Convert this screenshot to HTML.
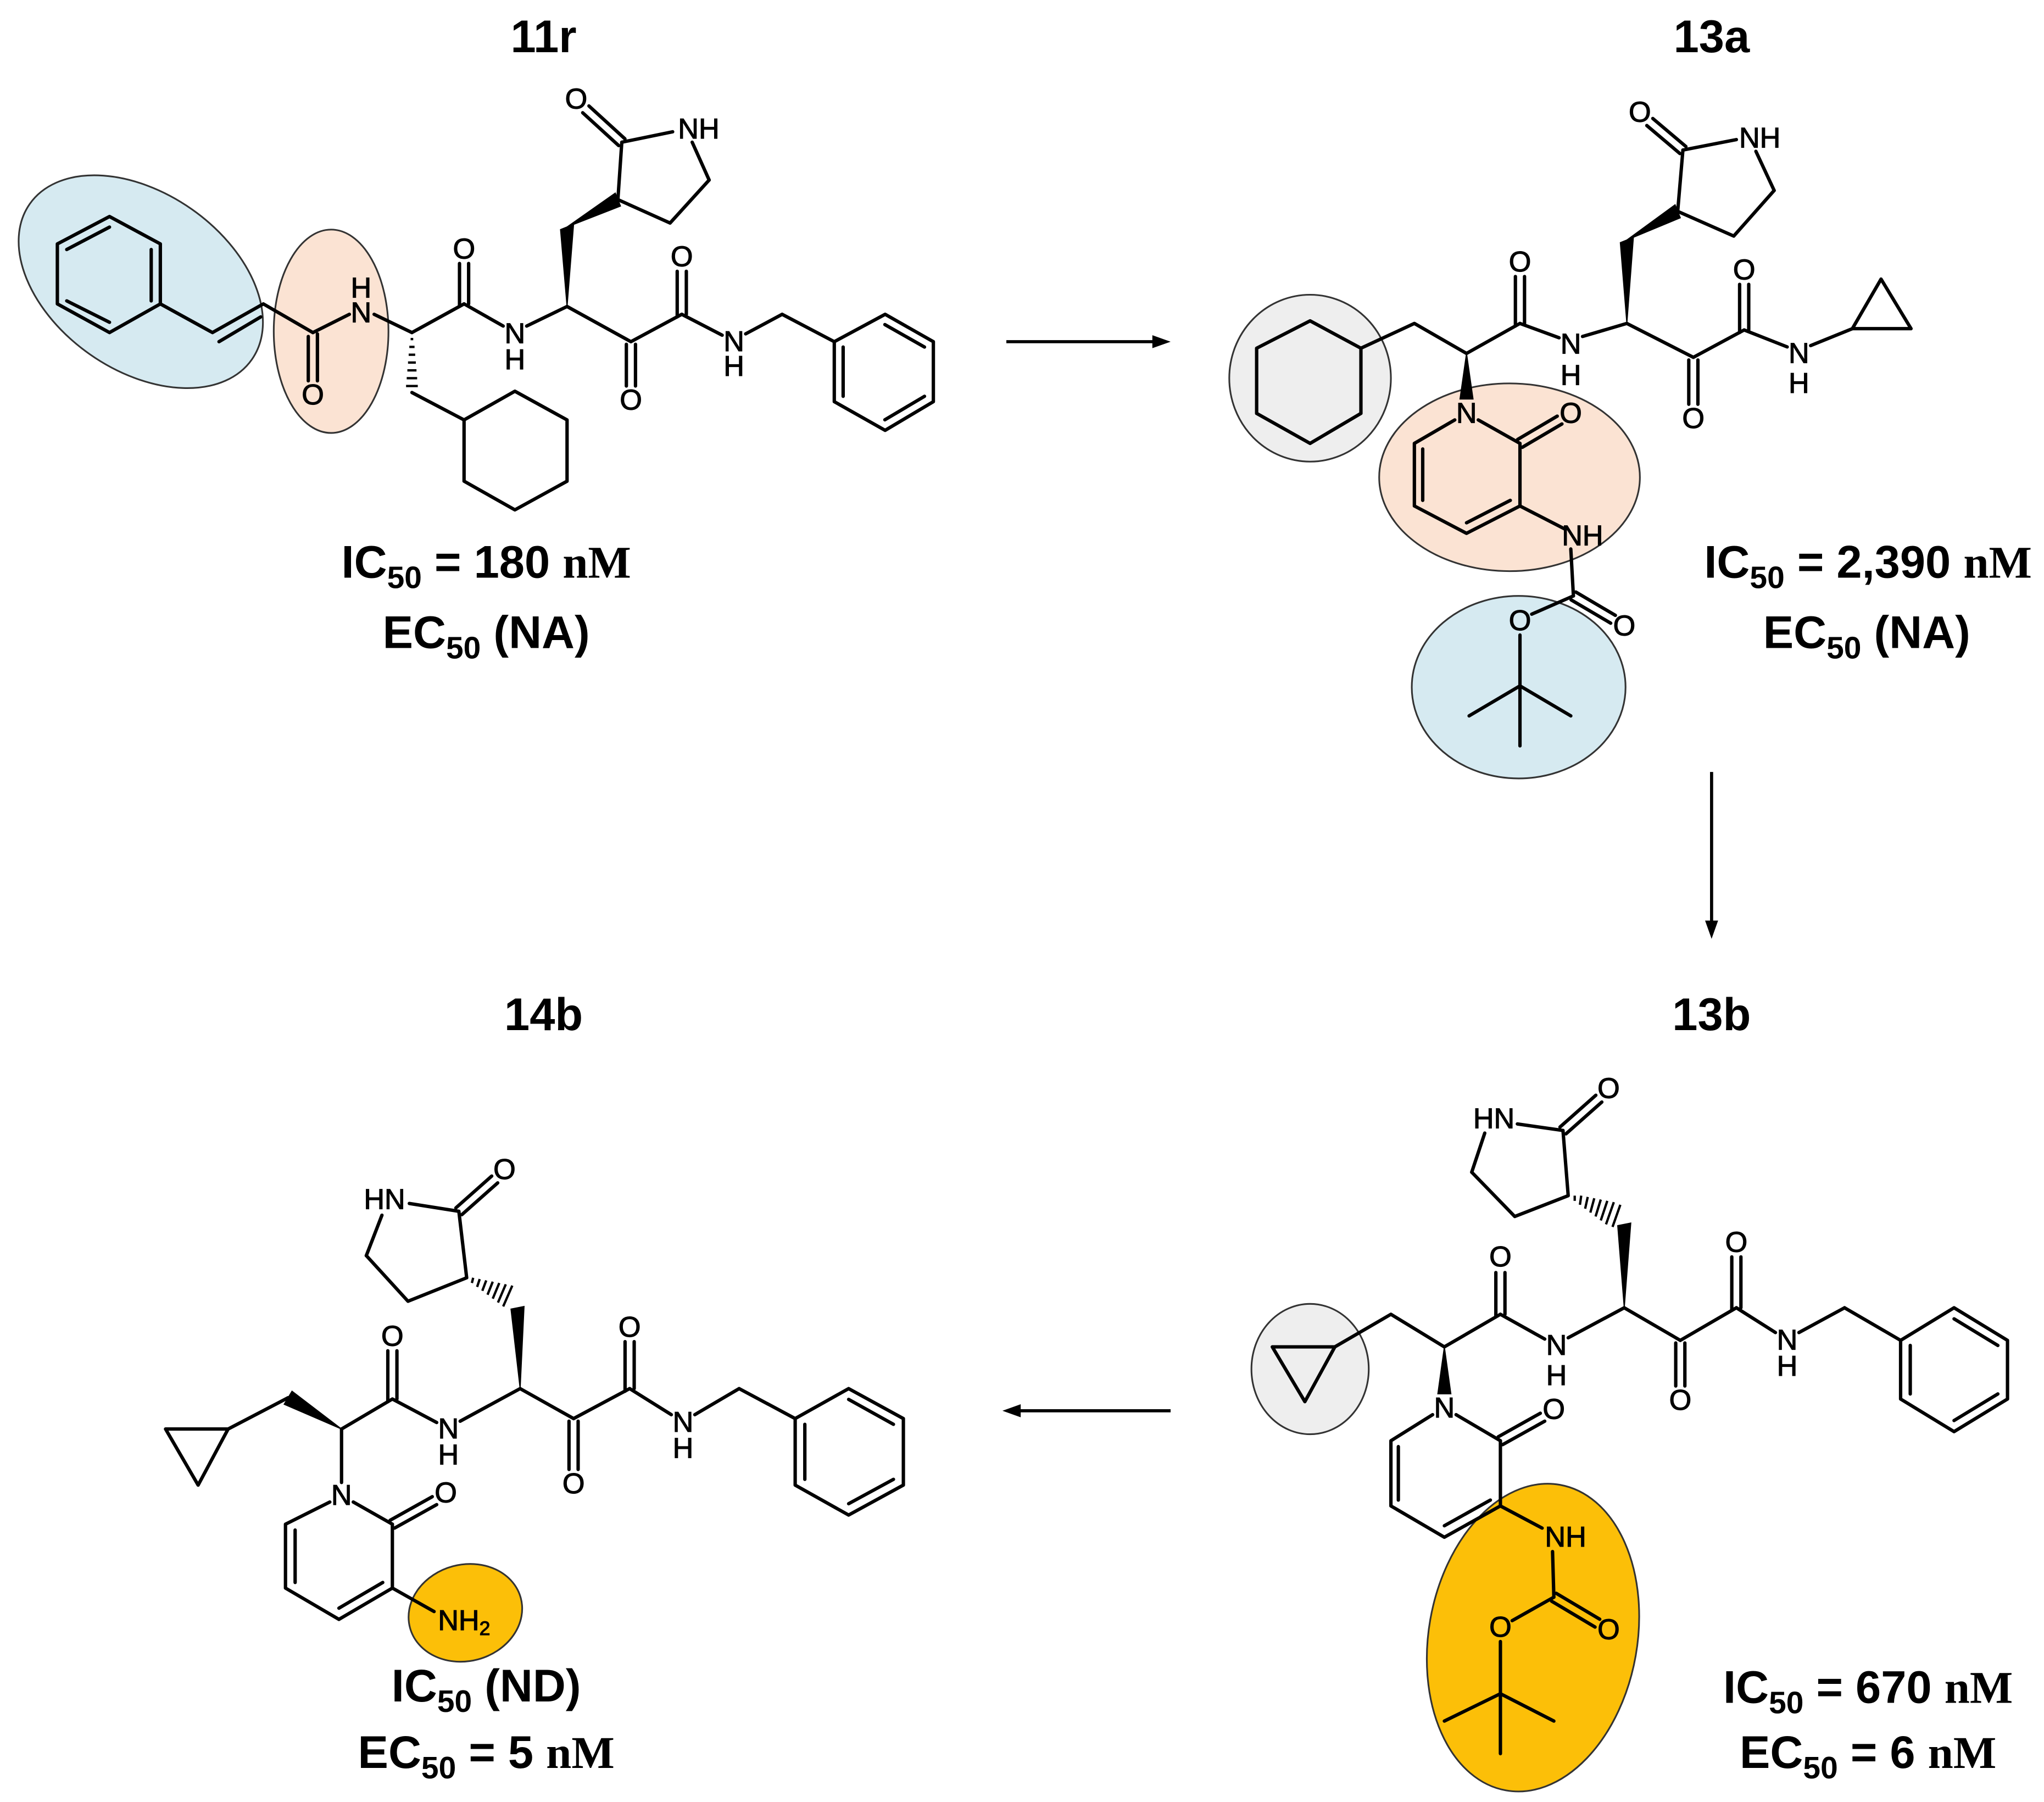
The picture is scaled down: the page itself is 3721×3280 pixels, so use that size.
<!DOCTYPE html>
<html><head><meta charset="utf-8">
<style>
html,body{margin:0;padding:0;background:#fff;}
svg{display:block;}
.b{stroke:#000;stroke-width:2.6;fill:none;stroke-linecap:round;stroke-linejoin:round;}
.h{stroke:#000;stroke-width:1.8;fill:none;}
.w{fill:#000;stroke:#000;stroke-width:0.8;}
.a{font-family:"Liberation Sans Narrow","Liberation Sans",sans-serif;font-size:22px;text-anchor:middle;dominant-baseline:central;fill:#000;stroke:#000;stroke-width:0.5;}
.t{font-family:"Liberation Sans",sans-serif;font-weight:bold;font-size:35px;text-anchor:middle;fill:#000;}
.s{font-family:"Liberation Serif",serif;font-weight:bold;}
.ar{stroke:#000;stroke-width:2.4;fill:none;}
</style></head>
<body>
<svg width="3721" height="3280" viewBox="0 0 1568 1382" xmlns="http://www.w3.org/2000/svg">
<rect width="1568" height="1382" fill="#fff"/>

<!-- ===== 11r ===== -->
<text class="t" x="417" y="40" font-size="34">11r</text>
<ellipse cx="108" cy="216" rx="104" ry="68" transform="rotate(35 108 216)" fill="#d6eaf1" stroke="#333" stroke-width="1.3"/>
<ellipse cx="254" cy="254" rx="44" ry="78" fill="#fbe3d3" stroke="#333" stroke-width="1.3"/>
<polygon class="b" points="84,166 123,187 123,233 84,255 44,233 44,187"/>
<line class="b" x1="51.2" y1="191.3" x2="84" y2="174.1"/>
<line class="b" x1="116" y1="191.3" x2="116" y2="230.7"/>
<line class="b" x1="84" y1="247.1" x2="51.2" y2="230.7"/>
<polyline class="b" points="123,233 163,255 202,233 240,255"/>
<line class="b" x1="168" y1="262" x2="200" y2="243"/>
<line class="b" x1="236.5" y1="258" x2="236.5" y2="292"/>
<line class="b" x1="243.5" y1="256" x2="243.5" y2="292"/>
<text class="a" x="240" y="303">O</text>
<line class="b" x1="240" y1="255" x2="268" y2="241"/>
<text class="a" x="277" y="240">N</text>
<text class="a" x="277" y="221">H</text>
<line class="b" x1="287" y1="241" x2="316" y2="255"/>
<g class="h">
<line x1="315" y1="260" x2="317" y2="260"/><line x1="314" y1="266" x2="318" y2="266"/>
<line x1="313.5" y1="272" x2="318.5" y2="272"/><line x1="313" y1="278" x2="319" y2="278"/>
<line x1="312.5" y1="284" x2="319.5" y2="284"/><line x1="312" y1="290" x2="320" y2="290"/>
<line x1="311.5" y1="296" x2="320.5" y2="296"/>
</g>
<line class="b" x1="316" y1="301" x2="356" y2="322"/>
<polygon class="b" points="356,322 395,300 435,322 435,369 395,391 356,369"/>
<line class="b" x1="316" y1="255" x2="356" y2="233"/>
<line class="b" x1="352.5" y1="202" x2="352.5" y2="235"/>
<line class="b" x1="359.5" y1="202" x2="359.5" y2="233"/>
<text class="a" x="356" y="191">O</text>
<line class="b" x1="356" y1="233" x2="386" y2="250"/>
<text class="a" x="395" y="256">N</text>
<text class="a" x="395" y="276">H</text>
<line class="b" x1="404" y1="250" x2="435" y2="235"/>
<polygon class="w" points="435,235 430,176 440,172"/>
<polygon class="w" points="435,174 472,148 476,158"/>
<polyline class="b" points="474,153 477,109"/>
<line class="b" x1="477" y1="109" x2="516" y2="101"/>
<line class="b" x1="531" y1="109" x2="544" y2="138"/>
<polyline class="b" points="544,138 514,171 474,153"/>
<line class="b" x1="479.4" y1="106.4" x2="451.8" y2="81.2"/>
<line class="b" x1="474.6" y1="111.6" x2="447" y2="86.4"/>
<text class="a" x="442" y="76">O</text>
<text class="a" x="536" y="99">NH</text>
<line class="b" x1="435" y1="235" x2="484" y2="262"/>
<line class="b" x1="480.5" y1="264" x2="480.5" y2="296"/>
<line class="b" x1="487.5" y1="264" x2="487.5" y2="296"/>
<text class="a" x="484" y="307">O</text>
<line class="b" x1="484" y1="262" x2="523" y2="241"/>
<line class="b" x1="519.5" y1="208" x2="519.5" y2="243"/>
<line class="b" x1="526.5" y1="208" x2="526.5" y2="241"/>
<text class="a" x="523" y="197">O</text>
<line class="b" x1="523" y1="241" x2="554" y2="257"/>
<text class="a" x="563" y="262">N</text>
<text class="a" x="563" y="281">H</text>
<line class="b" x1="572" y1="256" x2="600" y2="241"/>
<line class="b" x1="600" y1="241" x2="640" y2="262"/>
<polygon class="b" points="640,262 679,241 716,262 716,308 679,330 640,308"/>
<line class="b" x1="678.8" y1="248.9" x2="709.2" y2="266.1"/>
<line class="b" x1="646.8" y1="266.1" x2="646.8" y2="303.9"/>
<line class="b" x1="678.8" y1="321.9" x2="709.2" y2="303.9"/>
<text class="t" x="373" y="443">IC<tspan font-size="24" dy="8">50</tspan><tspan dy="-8"> = 180 </tspan><tspan class="s">nM</tspan></text>
<text class="t" x="373" y="497">EC<tspan font-size="24" dy="8">50</tspan><tspan dy="-8"> (NA)</tspan></text>

<!-- arrows -->
<line class="ar" x1="772" y1="262" x2="887" y2="262"/>
<polygon points="898,262 884,257 884,267" fill="#000"/>
<line class="ar" x1="1313" y1="592" x2="1313" y2="708"/>
<polygon points="1313,720 1308,706 1318,706" fill="#000"/>
<line class="ar" x1="898" y1="1082" x2="781" y2="1082"/>
<polygon points="769,1082 783,1077 783,1087" fill="#000"/>

<!-- ===== 13a ===== -->
<text class="t" x="1313" y="40" font-size="34">13a</text>
<ellipse cx="1005" cy="290" rx="62" ry="64" fill="#eeeeee" stroke="#333" stroke-width="1.3"/>
<ellipse cx="1158" cy="366" rx="100" ry="72" fill="#fbe3d3" stroke="#333" stroke-width="1.3"/>
<ellipse cx="1165" cy="527" rx="82" ry="70" fill="#d6eaf1" stroke="#333" stroke-width="1.3"/>
<polygon class="b" points="1005,246 1044,267 1044,317 1005,340 964,317 964,267"/>
<polyline class="b" points="1044,267 1085,248 1125,271 1166,248"/>
<line class="b" x1="1162.5" y1="212" x2="1162.5" y2="250"/>
<line class="b" x1="1169.5" y1="212" x2="1169.5" y2="248"/>
<text class="a" x="1166" y="201">O</text>
<line class="b" x1="1166" y1="248" x2="1196" y2="259"/>
<text class="a" x="1205" y="264">N</text>
<text class="a" x="1205" y="288">H</text>
<line class="b" x1="1214" y1="258" x2="1248" y2="248"/>
<polygon class="w" points="1248,248 1243,186 1253,182"/>
<polygon class="w" points="1248,184 1285,157 1289,167"/>
<line class="b" x1="1287" y1="162" x2="1291" y2="115"/>
<line class="b" x1="1291" y1="115" x2="1332" y2="107"/>
<line class="b" x1="1347" y1="116" x2="1361" y2="146"/>
<polyline class="b" points="1361,146 1330,181 1287,162"/>
<line class="b" x1="1293.3" y1="112.3" x2="1267.9" y2="90.8"/>
<line class="b" x1="1288.7" y1="117.7" x2="1263.3" y2="96.2"/>
<text class="a" x="1258" y="86">O</text>
<text class="a" x="1350" y="106">NH</text>
<line class="b" x1="1248" y1="248" x2="1299" y2="274"/>
<line class="b" x1="1295.5" y1="276" x2="1295.5" y2="310"/>
<line class="b" x1="1302.5" y1="276" x2="1302.5" y2="310"/>
<text class="a" x="1299" y="321">O</text>
<line class="b" x1="1299" y1="274" x2="1338" y2="253"/>
<line class="b" x1="1334.5" y1="218" x2="1334.5" y2="255"/>
<line class="b" x1="1341.5" y1="218" x2="1341.5" y2="253"/>
<text class="a" x="1338" y="207">O</text>
<line class="b" x1="1338" y1="253" x2="1371" y2="266"/>
<text class="a" x="1380" y="271">N</text>
<text class="a" x="1380" y="294">H</text>
<line class="b" x1="1389" y1="265" x2="1421" y2="252"/>
<polygon class="b" points="1421,252 1443,214 1466,252"/>
<polygon class="w" points="1125,271 1120,306 1130,306"/>
<text class="a" x="1125" y="317">N</text>
<line class="b" x1="1134" y1="322" x2="1166" y2="340"/>
<polyline class="b" points="1166,340 1166,388 1125,409 1085,388 1085,340 1116,322"/>
<line class="b" x1="1158.6" y1="383.7" x2="1125" y2="400.9"/>
<line class="b" x1="1091.4" y1="383.7" x2="1091.4" y2="344.3"/>
<line class="b" x1="1167.8" y1="343" x2="1198.2" y2="325.1"/>
<line class="b" x1="1164.2" y1="337" x2="1194.6" y2="319.1"/>
<text class="a" x="1205" y="317">O</text>
<line class="b" x1="1166" y1="388" x2="1201" y2="406"/>
<text class="a" x="1214" y="411">NH</text>
<line class="b" x1="1205" y1="421" x2="1207" y2="457"/>
<line class="b" x1="1205.2" y1="460" x2="1235.6" y2="477.9"/>
<line class="b" x1="1208.8" y1="454" x2="1239.2" y2="471.9"/>
<text class="a" x="1246" y="480">O</text>
<line class="b" x1="1207" y1="457" x2="1175" y2="471"/>
<text class="a" x="1166" y="476">O</text>
<line class="b" x1="1166" y1="487" x2="1166" y2="572"/>
<line class="b" x1="1127" y1="549" x2="1166" y2="526"/>
<line class="b" x1="1205" y1="549" x2="1166" y2="526"/>
<text class="t" x="1433" y="443">IC<tspan font-size="24" dy="8">50</tspan><tspan dy="-8"> = 2,390 </tspan><tspan class="s">nM</tspan></text>
<text class="t" x="1432" y="497">EC<tspan font-size="24" dy="8">50</tspan><tspan dy="-8"> (NA)</tspan></text>

<!-- ===== 13b ===== -->
<text class="t" x="1313" y="790" font-size="34">13b</text>
<ellipse cx="1005" cy="1050" rx="45" ry="50" fill="#eeeeee" stroke="#333" stroke-width="1.3"/>
<ellipse cx="1176" cy="1256" rx="80" ry="119" transform="rotate(10 1176 1256)" fill="#fcbf08" stroke="#333" stroke-width="1.3"/>
<text class="a" x="1146" y="858">HN</text>
<line class="b" x1="1164" y1="862" x2="1199" y2="867"/>
<line class="b" x1="1139" y1="869" x2="1129" y2="899"/>
<polyline class="b" points="1129,899 1162,933 1203,917 1199,867"/>
<line class="b" x1="1201.3" y1="869.6" x2="1228.8" y2="845.2"/>
<line class="b" x1="1196.7" y1="864.4" x2="1224.2" y2="840"/>
<text class="a" x="1234" y="835">O</text>
<g class="h">
<line x1="1208" y1="917" x2="1208" y2="921"/><line x1="1213" y1="917" x2="1212" y2="924"/>
<line x1="1218" y1="918" x2="1216" y2="927"/><line x1="1223" y1="919" x2="1220" y2="930"/>
<line x1="1228" y1="920" x2="1224" y2="933"/><line x1="1233" y1="921" x2="1228" y2="936"/>
<line x1="1238" y1="922" x2="1232" y2="939"/><line x1="1243" y1="924" x2="1237" y2="941"/>
</g>
<polygon class="w" points="1246,1003 1241,940 1251,938"/>
<polygon class="b" points="976,1033 1024,1033 1001,1075"/>
<polyline class="b" points="1024,1033 1067,1008 1108,1033 1151,1008"/>
<line class="b" x1="1147.5" y1="976" x2="1147.5" y2="1010"/>
<line class="b" x1="1154.5" y1="976" x2="1154.5" y2="1008"/>
<text class="a" x="1151" y="964">O</text>
<line class="b" x1="1151" y1="1008" x2="1185" y2="1027"/>
<text class="a" x="1194" y="1032">N</text>
<text class="a" x="1194" y="1055">H</text>
<line class="b" x1="1203" y1="1026" x2="1246" y2="1003"/>
<line class="b" x1="1246" y1="1003" x2="1289" y2="1028"/>
<line class="b" x1="1285.5" y1="1030" x2="1285.5" y2="1063"/>
<line class="b" x1="1292.5" y1="1030" x2="1292.5" y2="1063"/>
<text class="a" x="1289" y="1074">O</text>
<line class="b" x1="1289" y1="1028" x2="1332" y2="1003"/>
<line class="b" x1="1328.5" y1="964" x2="1328.5" y2="1005"/>
<line class="b" x1="1335.5" y1="964" x2="1335.5" y2="1003"/>
<text class="a" x="1332" y="953">O</text>
<line class="b" x1="1332" y1="1003" x2="1362" y2="1022"/>
<text class="a" x="1371" y="1028">N</text>
<text class="a" x="1371" y="1048">H</text>
<line class="b" x1="1380" y1="1022" x2="1415" y2="1003"/>
<line class="b" x1="1415" y1="1003" x2="1458" y2="1028"/>
<polygon class="b" points="1458,1028 1499,1003 1540,1028 1540,1073 1499,1098 1458,1073"/>
<line class="b" x1="1499" y1="1011.5" x2="1532.6" y2="1031.9"/>
<line class="b" x1="1465.4" y1="1031.9" x2="1465.4" y2="1069.1"/>
<line class="b" x1="1499" y1="1089.5" x2="1532.6" y2="1069.1"/>
<polygon class="w" points="1108,1033 1103,1069 1113,1069"/>
<text class="a" x="1108" y="1080">N</text>
<line class="b" x1="1117" y1="1085" x2="1151" y2="1105"/>
<polyline class="b" points="1151,1105 1151,1155 1108,1179 1067,1155 1067,1105 1099,1085"/>
<line class="b" x1="1143.3" y1="1150.5" x2="1108" y2="1170.2"/>
<line class="b" x1="1072.7" y1="1150.5" x2="1072.7" y2="1109.5"/>
<line class="b" x1="1152.7" y1="1108" x2="1185" y2="1090"/>
<line class="b" x1="1149.3" y1="1102" x2="1181.6" y2="1083.9"/>
<text class="a" x="1192" y="1081">O</text>
<line class="b" x1="1151" y1="1155" x2="1183" y2="1172"/>
<text class="a" x="1201" y="1179">NH</text>
<line class="b" x1="1191" y1="1190" x2="1192" y2="1225"/>
<line class="b" x1="1190.2" y1="1228" x2="1223.6" y2="1247.9"/>
<line class="b" x1="1193.8" y1="1222" x2="1227.2" y2="1241.9"/>
<text class="a" x="1234" y="1250">O</text>
<line class="b" x1="1192" y1="1225" x2="1160" y2="1243"/>
<text class="a" x="1151" y="1248">O</text>
<line class="b" x1="1151" y1="1259" x2="1151" y2="1345"/>
<line class="b" x1="1108" y1="1320" x2="1151" y2="1299"/>
<line class="b" x1="1192" y1="1320" x2="1151" y2="1299"/>
<text class="t" x="1433" y="1306">IC<tspan font-size="24" dy="8">50</tspan><tspan dy="-8"> = 670 </tspan><tspan class="s">nM</tspan></text>
<text class="t" x="1433" y="1356">EC<tspan font-size="24" dy="8">50</tspan><tspan dy="-8"> = 6 </tspan><tspan class="s">nM</tspan></text>

<!-- ===== 14b ===== -->
<text class="t" x="417" y="790" font-size="34">14b</text>
<ellipse cx="357" cy="1237" rx="44" ry="37" transform="rotate(-15 357 1237)" fill="#fcbf08" stroke="#333" stroke-width="1.3"/>
<text class="a" x="295" y="920">HN</text>
<line class="b" x1="314" y1="923" x2="352" y2="929"/>
<line class="b" x1="293" y1="932" x2="281" y2="963"/>
<polyline class="b" points="281,963 313,998 358,980 352,929"/>
<line class="b" x1="354.3" y1="931.6" x2="381.8" y2="907.2"/>
<line class="b" x1="349.7" y1="926.4" x2="377.2" y2="902"/>
<text class="a" x="387" y="897">O</text>
<g class="h">
<line x1="363" y1="980" x2="362" y2="984"/><line x1="368" y1="981" x2="366" y2="987"/>
<line x1="373" y1="982" x2="370" y2="990"/><line x1="378" y1="983" x2="374" y2="993"/>
<line x1="383" y1="984" x2="378" y2="996"/><line x1="388" y1="985" x2="382" y2="999"/>
<line x1="393" y1="986" x2="386" y2="1002"/>
</g>
<polygon class="w" points="399,1065 392,1004 402,1002"/>
<polygon class="b" points="127,1096 175,1096 152,1139"/>
<line class="b" x1="175" y1="1096" x2="221" y2="1072"/>
<polygon class="w" points="262,1096 218,1077 224,1067"/>
<line class="b" x1="262" y1="1096" x2="262" y2="1137"/>
<line class="b" x1="262" y1="1096" x2="301" y2="1073"/>
<line class="b" x1="297.5" y1="1036" x2="297.5" y2="1075"/>
<line class="b" x1="304.5" y1="1036" x2="304.5" y2="1073"/>
<text class="a" x="301" y="1025">O</text>
<line class="b" x1="301" y1="1073" x2="335" y2="1091"/>
<text class="a" x="344" y="1096">N</text>
<text class="a" x="344" y="1116">H</text>
<line class="b" x1="353" y1="1090" x2="399" y2="1065"/>
<line class="b" x1="399" y1="1065" x2="440" y2="1088"/>
<line class="b" x1="436.5" y1="1090" x2="436.5" y2="1127"/>
<line class="b" x1="443.5" y1="1090" x2="443.5" y2="1127"/>
<text class="a" x="440" y="1138">O</text>
<line class="b" x1="440" y1="1088" x2="483" y2="1065"/>
<line class="b" x1="479.5" y1="1029" x2="479.5" y2="1067"/>
<line class="b" x1="486.5" y1="1029" x2="486.5" y2="1065"/>
<text class="a" x="483" y="1018">O</text>
<line class="b" x1="483" y1="1065" x2="515" y2="1085"/>
<text class="a" x="524" y="1091">N</text>
<text class="a" x="524" y="1111">H</text>
<line class="b" x1="533" y1="1085" x2="567" y2="1065"/>
<line class="b" x1="567" y1="1065" x2="610" y2="1088"/>
<polygon class="b" points="610,1088 651,1065 693,1088 693,1139 651,1162 610,1139"/>
<line class="b" x1="651" y1="1073.3" x2="685.4" y2="1092.4"/>
<line class="b" x1="617.4" y1="1092.4" x2="617.4" y2="1134.6"/>
<line class="b" x1="651" y1="1153.3" x2="685.4" y2="1134.6"/>
<text class="a" x="262" y="1147">N</text>
<line class="b" x1="271" y1="1152" x2="301" y2="1169"/>
<polyline class="b" points="301,1169 301,1218 260,1242 219,1218 219,1169 253,1152"/>
<line class="b" x1="293.6" y1="1213.7" x2="260" y2="1233.4"/>
<line class="b" x1="226.4" y1="1213.7" x2="226.4" y2="1173.5"/>
<line class="b" x1="302.7" y1="1172" x2="335" y2="1154"/>
<line class="b" x1="299.3" y1="1166" x2="331.6" y2="1147.9"/>
<text class="a" x="342" y="1145">O</text>
<line class="b" x1="301" y1="1218" x2="333" y2="1236"/>
<text class="a" x="356" y="1243">NH<tspan font-size="15" dy="6">2</tspan></text>
<text class="t" x="373" y="1305">IC<tspan font-size="24" dy="8">50</tspan><tspan dy="-8"> (ND)</tspan></text>
<text class="t" x="373" y="1356">EC<tspan font-size="24" dy="8">50</tspan><tspan dy="-8"> = 5 </tspan><tspan class="s">nM</tspan></text>
</svg>
</body></html>
